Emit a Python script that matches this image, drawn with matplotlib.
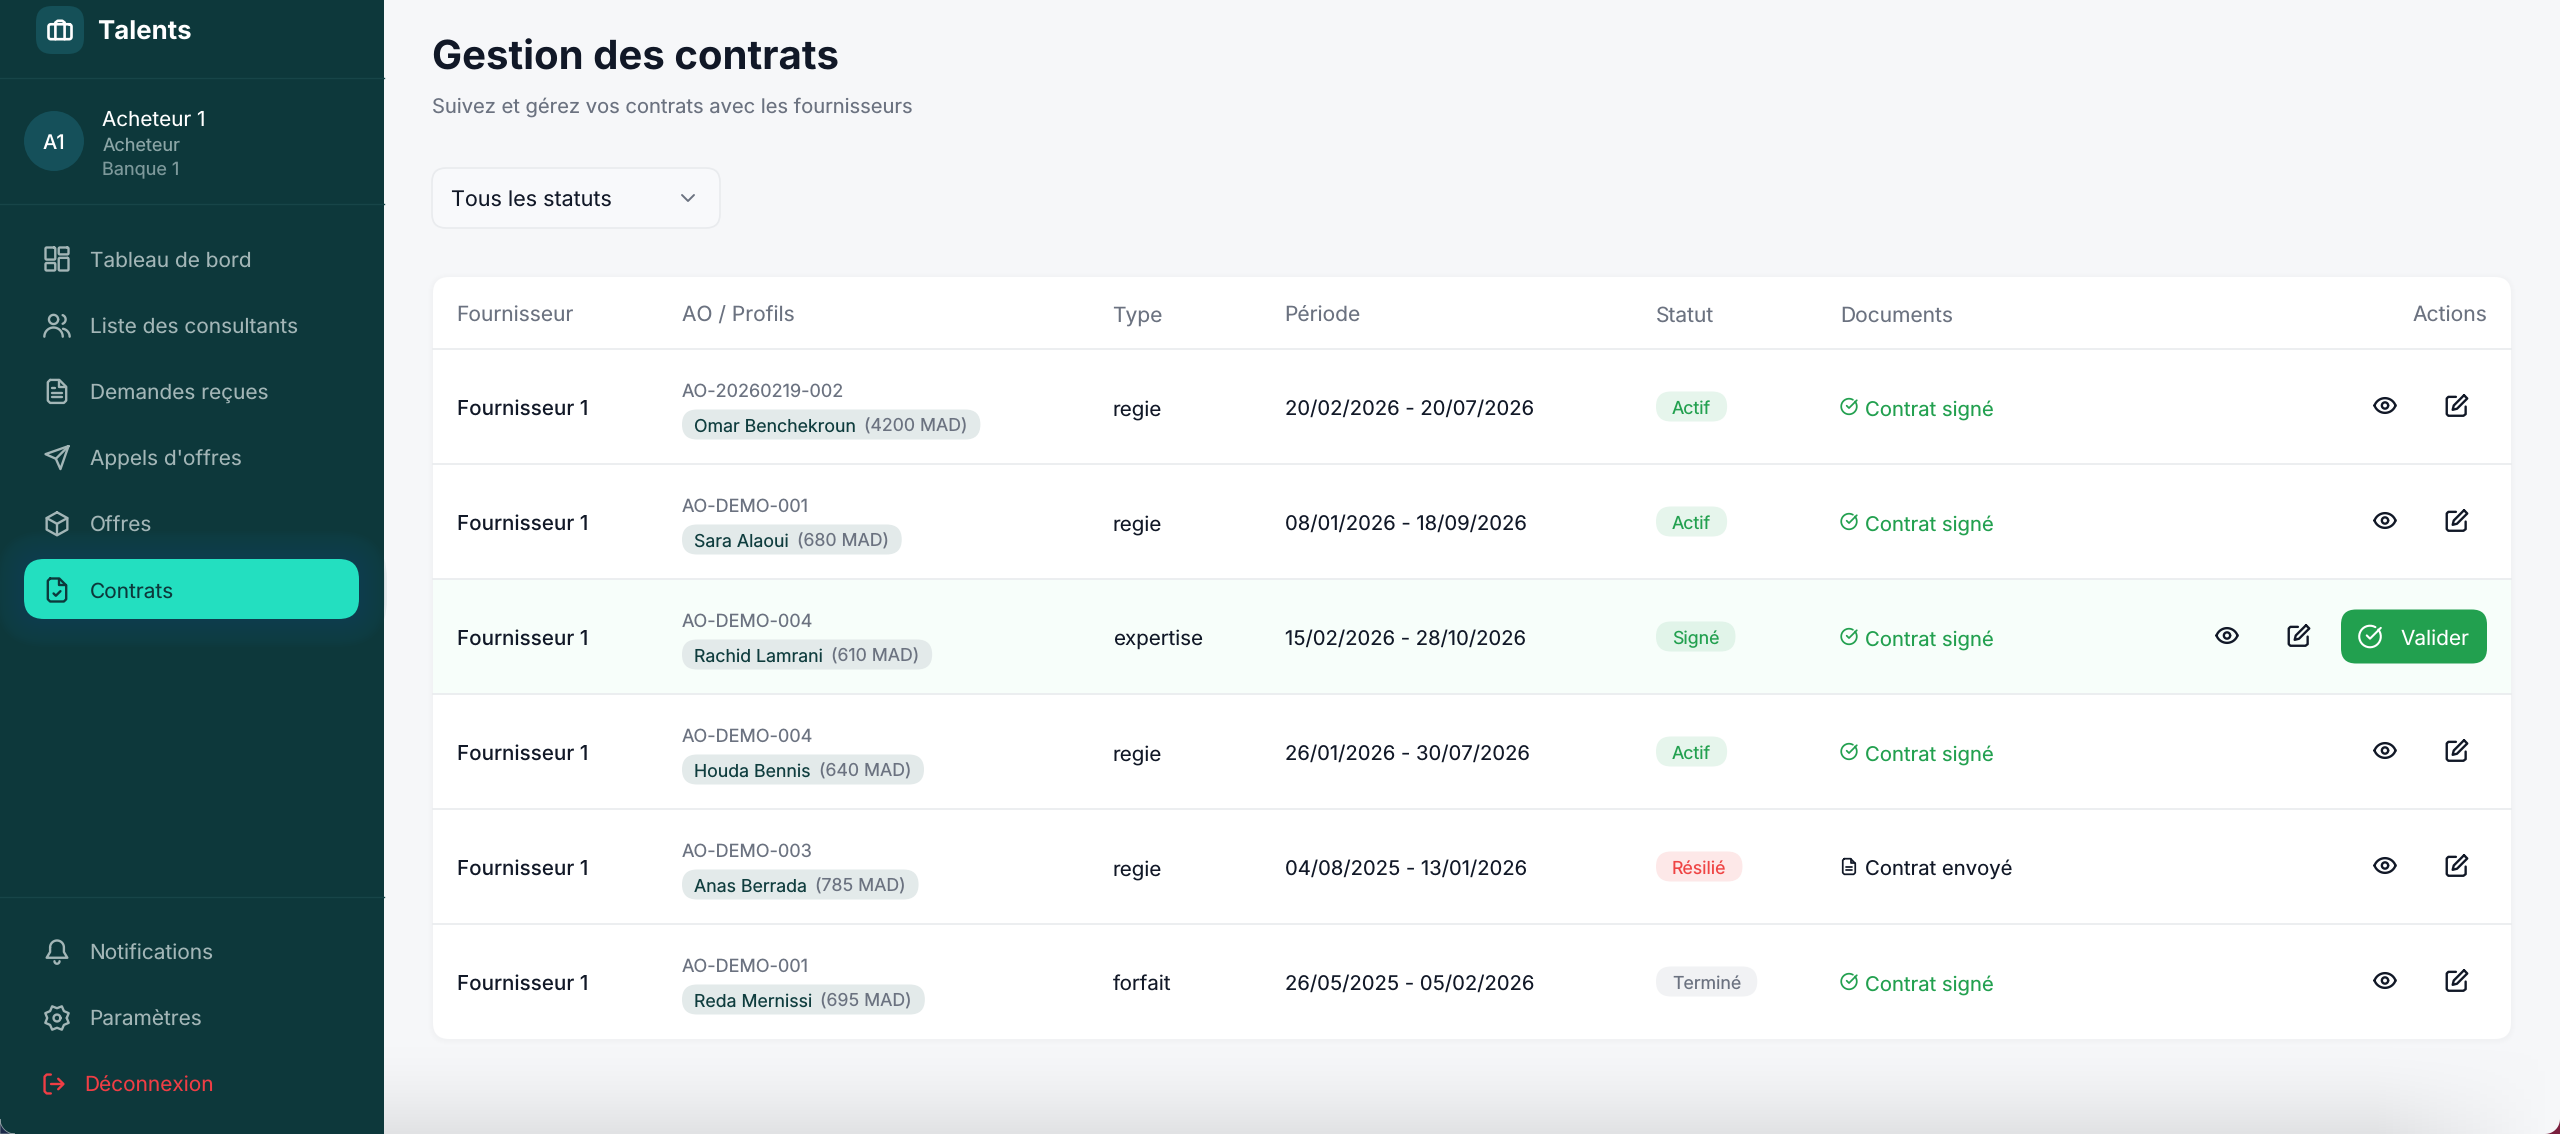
#contract management screen rebuilt with matplotlib patches and text
import numpy as np
import matplotlib
matplotlib.use("Agg")
import matplotlib.pyplot as plt
from matplotlib.patches import FancyBboxPatch, Rectangle, Circle, Polygon

plt.rcParams['font.family'] = ['Inter', 'DejaVu Sans']
plt.rcParams['text.hinting'] = 'no_hinting'

fournisseurs = ["Fournisseur 1"] * 6
ao_refs = ["AO-20260219-002", "AO-DEMO-001", "AO-DEMO-004", "AO-DEMO-004", "AO-DEMO-003", "AO-DEMO-001"]
profils = ["Omar Benchekroun", "Sara Alaoui", "Rachid Lamrani", "Houda Bennis", "Anas Berrada", "Reda Mernissi"]
tarifs = ["(4200 MAD)", "(680 MAD)", "(610 MAD)", "(640 MAD)", "(785 MAD)", "(695 MAD)"]
types = ["regie", "regie", "expertise", "regie", "regie", "forfait"]
periodes = ["20/02/2026 - 20/07/2026", "08/01/2026 - 18/09/2026", "15/02/2026 - 28/10/2026",
            "26/01/2026 - 30/07/2026", "04/08/2025 - 13/01/2026", "26/05/2025 - 05/02/2026"]
statuts = ["Actif", "Actif", "Signé", "Actif", "Résilié", "Terminé"]
documents = ["Contrat signé", "Contrat signé", "Contrat signé", "Contrat signé", "Contrat envoyé", "Contrat signé"]
colonnes = ["Fournisseur", "AO / Profils", "Type", "Période", "Statut", "Documents"]
menu_haut = ["Tableau de bord", "Liste des consultants", "Demandes reçues", "Appels d'offres", "Offres", "Contrats"]
menu_bas = ["Notifications", "Paramètres"]

SIDE = "#0d383b"
BG = "#f6f7f9"
INK = "#111827"
GREY = "#6b7280"
GREEN = "#22a04f"
TEAL = "#23dfc0"
MUTED = "#a3b6b7"
LINE = "#e9ebee"
status_style = {"Actif": ("#e6f5ec", GREEN), "Signé": ("#e1f4e9", GREEN),
                "Résilié": ("#fde8e8", "#ef4444"), "Terminé": ("#f1f2f4", GREY)}

fig = plt.figure(figsize=(25.6, 11.34), dpi=100)
ax = fig.add_axes([0, 0, 1, 1])
ax.set_xlim(0, 2560)
ax.set_ylim(1134, 0)
ax.axis("off")
ax.set_aspect("auto")


def box(x0, y0, x1, y1, r, fc, ec="none", lw=0, z=2, alpha=None):
    p = FancyBboxPatch((x0 + r, y0 + r), x1 - x0 - 2 * r, y1 - y0 - 2 * r,
                       boxstyle="round,pad=%f,rounding_size=%f" % (r, r),
                       fc=fc, ec=ec, lw=lw, zorder=z, alpha=alpha)
    ax.add_patch(p)
    return p


def txt(x, y, s, size=15, color=INK, weight="normal", ha="left", z=6):
    return ax.text(x, y + 1, s, fontsize=size, color=color, fontweight=weight, ha=ha,
                   va="center_baseline", zorder=z)


def arc(cx, cy, r, a0, a1, n=30):
    t = np.radians(np.linspace(a0, a1, n))
    return list(zip(cx + r * np.cos(t), cy + r * np.sin(t)))


def rrect(x0, y0, x1, y1, r):
    pts = arc(x1 - r, y0 + r, r, -90, 0, 8) + arc(x1 - r, y1 - r, r, 0, 90, 8)
    pts += arc(x0 + r, y1 - r, r, 90, 180, 8) + arc(x0 + r, y0 + r, r, 180, 270, 8)
    return pts + [pts[0]]


def icon(cx, cy, shapes, color, s=1.33, lw=2.0, z=5):
    # shapes are drawn on the 24 unit icon grid, centred on 12,12
    for pts in shapes:
        pts = np.array(pts, dtype=float)
        ax.plot(cx + (pts[:, 0] - 12) * s, cy + (pts[:, 1] - 12) * s, color=color, lw=lw,
                solid_capstyle="round", solid_joinstyle="round", zorder=z)


briefcase = [rrect(2, 7, 22, 20, 2), [(8, 20), (8, 5.5), (10, 4), (14, 4), (16, 5.5), (16, 20)]]
grid_ic = [rrect(2, 2, 10.5, 12.5, 1), rrect(13.5, 2, 22, 8, 1), rrect(13.5, 11, 22, 22, 1), rrect(2, 15.5, 10.5, 22, 1)]
users_ic = [arc(9, 7, 4, 0, 360), arc(9, 22, 8, 180, 360), arc(15.5, 7, 4, -70, 70), arc(16, 22, 7, 280, 360)]
file_lines = [[(6, 2), (14, 2), (20, 8), (20, 20), (18, 22), (6, 22), (4, 20), (4, 4), (6, 2)], [(14, 2), (14, 8), (20, 8)]]
file_ic = file_lines + [[(8, 13), (16, 13)], [(8, 17), (16, 17)], [(8, 9), (10, 9)]]
send_ic = [[(22, 2), (15, 22), (11, 13), (2, 9), (22, 2)], [(22, 2), (11, 13)]]
box_ic = [[(12, 2), (21, 7), (21, 17), (12, 22), (3, 17), (3, 7), (12, 2)], [(3, 7), (12, 12), (21, 7)], [(12, 12), (12, 22)]]
file_check = file_lines + [[(9, 15), (11, 17), (15, 13)]]
bell_ic = [arc(12, 8, 6, 180, 360) + [(18, 12), (21, 17), (3, 17), (6, 12), (6, 8)], arc(12, 20, 2.2, 180, 0)]
gear_ic = [arc(12, 12, 3, 0, 360), [(12 + (11 if k % 2 else 8.5) * np.cos(k * np.pi / 8), 12 + (11 if k % 2 else 8.5) * np.sin(k * np.pi / 8)) for k in range(17)]]
logout_ic = [[(9, 21), (5, 21), (3, 19), (3, 5), (5, 3), (9, 3)], [(16, 17), (21, 12), (16, 7)], [(21, 12), (9, 12)]]
eye_ic = [arc(12, 12, 3, 0, 360), arc(12, 15.6, 10.6, -160.6, -19.4) + arc(12, 8.4, 10.6, 19.4, 160.6)]
edit_ic = [[(11, 4), (4, 4), (2.5, 5.5), (2.5, 20), (4, 21.5), (18, 21.5), (20, 20), (20, 13)],
           [(18.5, 2.5), (21.5, 5.5), (12, 15), (8, 16), (9, 12), (18.5, 2.5)]]
check_ic = [arc(12, 12, 10, -40, 300), [(9, 11), (12, 14), (22, 4)]]
doc_small = file_lines + [[(8, 13), (16, 13)], [(8, 17), (16, 17)]]
nav_icons = [grid_ic, users_ic, file_ic, send_ic, box_ic, file_check]

# backgrounds, the shadow at the bottom of the window fades out towards the right corner
ax.add_patch(Rectangle((0, 0), 2560, 1134, fc=BG, ec="none", zorder=0))
v = np.linspace(0, 1, 90) ** 1.6
h = np.clip((2550 - np.linspace(384, 2560, 300)) / 170, 0, 1)
shade = np.outer(v, h)
ax.imshow(shade, extent=(384, 2560, 1134, 1044), vmin=0, vmax=1,
          cmap=matplotlib.colors.LinearSegmentedColormap.from_list("s", [BG, "#e1e2e4"]),
          aspect="auto", zorder=0.5)
ax.set_xlim(0, 2560)
ax.set_ylim(1134, 0)
ax.add_patch(Rectangle((0, 0), 384, 1134, fc=SIDE, ec="none", zorder=1))
for y in (77.5, 204, 897):
    ax.plot([0, 384], [y, y], color="#174548", lw=1, zorder=2)
# rounded window corners show what lies behind
ax.add_patch(Polygon([(0, 1134)] + arc(15, 1119, 15, 180, 90, 12), fc="#1c2a4a", ec="#8f9ea3", lw=0.6, zorder=2))
ax.add_patch(Polygon([(2560, 1134)] + arc(2545, 1119, 15, 0, 90, 12), fc="#7a1f3d", ec="none", zorder=2))

# sidebar head
box(36, 6, 84, 54, 16, "#155058")
icon(60, 30, briefcase, "white", s=1.15, lw=1.9)
txt(97, 29.5, "Talents", 18.6, "white", "bold")
ax.add_patch(Circle((54, 141), 30, fc="#15505a", ec="none", zorder=2))
txt(54, 141, "A1", 14.5, "white", "medium", ha="center")
txt(102.5, 117, "Acheteur 1", 14.9, "white", "normal")
txt(102.5, 143, "Acheteur", 13, "#8ba5a6")
txt(102.5, 167, "Banque 1", 13, "#7d999b")

# sidebar menu
nav_top = 259
nav_step = 66.2
for g in range(14, 0, -1):
    box(24 - g * 2, 559 - g * 2, 359 + g * 2, 619 + g * 2, 20 + g * 2, "#144a5c", alpha=0.07, z=2)
box(24, 559, 359, 619, 20, TEAL, z=3)
for i, label in enumerate(menu_haut):
    y = nav_top + i * nav_step
    on = label == "Contrats"
    c = SIDE if on else MUTED
    icon(57, y, nav_icons[i], c, s=1.15, lw=1.7)
    txt(90, y - 1, label, 15, c, "normal")
for y, label, ic in zip((952, 1018), menu_bas, (bell_ic, gear_ic)):
    icon(57, y, ic, MUTED, s=1.15, lw=1.7)
    txt(89.5, y - 1, label, 15, MUTED, "normal")
icon(54, 1084, logout_ic, "#ef3e45", s=1.05, lw=1.7)
txt(84.5, 1083.5, "Déconnexion", 15, "#ef3e45", "normal")

# page head
txt(432, 54, "Gestion des contrats", 28.9, INK, "bold")
txt(432, 104, "Suivez et gérez vos contrats avec les fournisseurs", 14.5, GREY)
box(432, 168, 720, 228, 14, "#f8f9fb", ec="#e9ebee", lw=1.2)
txt(451, 197, "Tous les statuts", 15.5, INK)
icon(688, 198, [[(6, 9), (12, 15), (18, 9)]], GREY, s=1.0, lw=1.4)

# table
card_l, card_r, card_t, card_b = 433, 2511, 277, 1039
head_y = 349
row_h = 115
for g in range(5, 0, -1):
    box(card_l - g, card_t - g + 1, card_r + g, card_b + g + 1, 16 + g, "#000000", alpha=0.004, z=1.5)
box(card_l, card_t, card_r, card_b, 16, "white", z=2)
col_x = [457, 682, 1113, 1285, 1656, 1841]
for x, name in zip(col_x, colonnes):
    txt(x - 0.5, 313.5, name, 15.1, GREY, "normal")
txt(2487, 313.5, "Actions", 15.2, GREY, "normal", ha="right")
ax.plot([card_l, card_r], [head_y, head_y], color=LINE, lw=1.2, zorder=3)

fig.canvas.draw()
rend = fig.canvas.get_renderer()
for i in range(len(fournisseurs)):
    top = head_y + i * row_h
    yc = top + row_h / 2
    if statuts[i] == "Signé":
        ax.add_patch(Rectangle((card_l, top), card_r - card_l, row_h, fc="#f7fefa", ec="none", zorder=2.5))
    if i < len(fournisseurs) - 1:
        ax.plot([card_l, card_r], [top + row_h] * 2, color=LINE, lw=1.2, zorder=3)
    txt(col_x[0], yc, fournisseurs[i], 14.85, INK, "medium")
    txt(col_x[1], yc - 17.5, ao_refs[i], 13, GREY)
    t1 = txt(col_x[1] + 12, yc + 18, profils[i], 12.75, "#0f3d3e", "normal")
    w1 = t1.get_window_extent(rend).x1
    t2 = txt(w1 + 8, yc + 18, tarifs[i], 12.75, GREY)
    w2 = t2.get_window_extent(rend).x1
    box(col_x[1], yc + 3, w2 + 13, yc + 33, 15, "#e3eaea", z=4)
    txt(col_x[2], yc, types[i], 14.8, INK)
    txt(col_x[3], yc, periodes[i], 14.56, INK)
    fc, tc = status_style[statuts[i]]
    t3 = txt(col_x[4] + 16, yc, statuts[i], 12.8, tc, "normal")
    box(col_x[4], yc - 15, t3.get_window_extent(rend).x1 + 16, yc + 15, 15, fc, z=4)
    signed = documents[i] == "Contrat signé"
    dc = GREEN if signed else INK
    icon(1849, yc, check_ic if signed else doc_small, dc, s=0.78, lw=1.25)
    txt(1865, yc, documents[i], 14.6, dc)
    if statuts[i] == "Signé":
        ex, px = 2227, 2299
        box(2341, yc - 27, 2487, yc + 27, 15, GREEN, z=4)
        icon(2370, yc, check_ic, "white", s=1.08, lw=1.5)
        txt(2401, yc, "Valider", 15, "white", "normal")
    else:
        ex, px = 2385, 2457
    icon(ex, yc - 1, eye_ic, INK, s=1.05, lw=1.7)
    icon(px, yc - 1, edit_ic, INK, s=1.08, lw=1.7)

fig.savefig("out.png", dpi=100)
